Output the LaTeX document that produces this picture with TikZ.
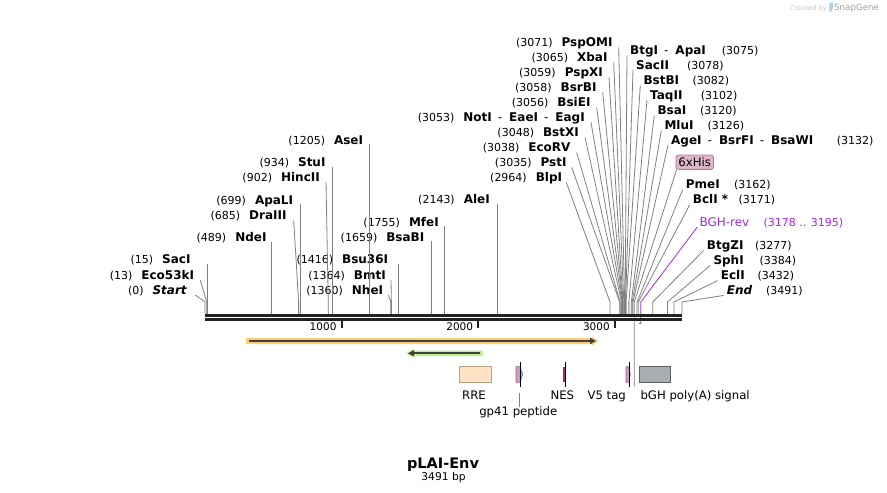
\documentclass[tikz,border=0pt]{standalone}
\usepackage{fontspec}
\setmainfont{DejaVu Sans}
\usetikzlibrary{arrows.meta,calc}

\definecolor{cutgray}{RGB}{128,128,128}
\definecolor{seqblack}{RGB}{34,34,34}
\definecolor{darkarrow}{RGB}{64,64,64}
\definecolor{primer}{RGB}{160,40,240}
\definecolor{hisfill}{RGB}{221,182,203}
\definecolor{hisedge}{RGB}{178,122,152}
\definecolor{envhalo}{RGB}{252,204,120}
\definecolor{revhalo}{RGB}{190,240,130}
\definecolor{rrefill}{RGB}{255,226,196}
\definecolor{rreedge}{RGB}{190,160,130}
\definecolor{tagpink}{RGB}{205,155,190}
\definecolor{tagedge}{RGB}{150,100,135}
\definecolor{nesred}{RGB}{165,40,100}
\definecolor{polyfill}{RGB}{168,173,180}
\definecolor{polyedge}{RGB}{90,95,100}
\definecolor{logoblue}{RGB}{170,210,235}

\newcommand{\numf}{\fontsize{11}{13}\selectfont}
\newcommand{\dsep}{\hspace{6pt}{\mdseries-}\hspace{7pt}}
\newcommand{\lcut}[2]{{\numf(#1)}\hspace{9pt}\textbf{#2}}
\newcommand{\rcut}[3]{\makebox[#3pt][l]{\textbf{#1}}{\numf(#2)}}

\begin{document}
\begin{tikzpicture}[x=1pt,y=-1pt,
  enz/.style={inner sep=0pt,font=\fontsize{12}{14}\selectfont},
  featlab/.style={inner sep=0pt,anchor=base,font=\fontsize{11.7}{14}\selectfont},
  cutline/.style={cutgray,line width=0.8pt},
  seqline/.style={seqblack,line width=2.7pt},
  hisbox/.style={draw=hisedge,fill=hisfill,rounded corners=2.5pt,inner xsep=2.5pt,inner ysep=0pt,
    minimum height=14.3pt,line width=0.8pt,font=\fontsize{11.7}{14}\selectfont},
  tipmark/.style={-{Triangle[length=6pt,width=6pt]},darkarrow,line width=2.2pt}]
\useasboundingbox (0,0) rectangle (887,493);

\node[enz,anchor=base east] (pspomi) at (612.7,46.4) {\lcut{3071}{PspOMI}};
\node[enz,anchor=base east] (xbai) at (607.7,61.4) {\lcut{3065}{XbaI}};
\node[enz,anchor=base east] (pspxi) at (603,76.4) {\lcut{3059}{PspXI}};
\node[enz,anchor=base east] (bsrbi) at (596.7,91.4) {\lcut{3058}{BsrBI}};
\node[enz,anchor=base east] (bsiei) at (590.7,106.4) {\lcut{3056}{BsiEI}};
\node[enz,anchor=base east] (noti) at (585,121.4) {\lcut{3053}{NotI\dsep EaeI\dsep EagI}};
\node[enz,anchor=base east] (bstxi) at (579,136.4) {\lcut{3048}{BstXI}};
\node[enz,anchor=base east] (ecorv) at (570.7,151.4) {\lcut{3038}{EcoRV}};
\node[enz,anchor=base east] (psti) at (566.7,166.4) {\lcut{3035}{PstI}};
\node[enz,anchor=base east] (blpi) at (562.3,181.4) {\lcut{2964}{BlpI}};
\node[enz,anchor=base east] (alei) at (490,203.9) {\lcut{2143}{AleI}};
\node[enz,anchor=base east] (mfei) at (439,226.4) {\lcut{1755}{MfeI}};
\node[enz,anchor=base east] (bsabi) at (424.5,241.4) {\lcut{1659}{BsaBI}};
\node[enz,anchor=base east] (asei) at (363.3,144.4) {\lcut{1205}{AseI}};
\node[enz,anchor=base east] (stui) at (325.7,166.6) {\lcut{934}{StuI}};
\node[enz,anchor=base east] (hincii) at (320,181.2) {\lcut{902}{HincII}};
\node[enz,anchor=base east] (apali) at (293.3,204.4) {\lcut{699}{ApaLI}};
\node[enz,anchor=base east] (draiii) at (286.7,219.4) {\lcut{685}{DraIII}};
\node[enz,anchor=base east] (ndei) at (266.7,241.6) {\lcut{489}{NdeI}};
\node[enz,anchor=base east] (saci) at (190.7,263.8) {\lcut{15}{SacI}};
\node[enz,anchor=base east] (eco) at (194.3,279.2) {\lcut{13}{Eco53kI}};
\node[enz,anchor=base east] (start) at (187.3,294) {\lcut{0}{\textit{Start}}};
\node[enz,anchor=base east] (bsu) at (388.3,263.8) {\lcut{1416}{Bsu36I}};
\node[enz,anchor=base east] (bmti) at (386,279.2) {\lcut{1364}{BmtI}};
\node[enz,anchor=base east] (nhei) at (383.3,294) {\lcut{1360}{NheI}};

\node[enz,anchor=base west] (btgi) at (630,54.4) {\rcut{BtgI\dsep ApaI}{3075}{91.7}};
\node[enz,anchor=base west] (sacii) at (636,69) {\rcut{SacII}{3078}{51}};
\node[enz,anchor=base west] (bstbi) at (643.3,84.4) {\rcut{BstBI}{3082}{49}};
\node[enz,anchor=base west] (taqii) at (650,99.4) {\rcut{TaqII}{3102}{50.7}};
\node[enz,anchor=base west] (bsai) at (657.3,114.4) {\rcut{BsaI}{3120}{42.7}};
\node[enz,anchor=base west] (mlui) at (664.3,129.4) {\rcut{MluI}{3126}{43}};
\node[enz,anchor=base west] (agei) at (671,144) {\rcut{AgeI\dsep BsrFI\dsep BsaWI}{3132}{165.7}};
\node[enz,anchor=base west] (pmei) at (685.7,188.6) {\rcut{PmeI}{3162}{48.3}};
\node[enz,anchor=base west] (bcli) at (692.7,203.8) {\rcut{BclI *}{3171}{45.6}};
\node[enz,anchor=base west] (btgzi) at (706.7,249.4) {\rcut{BtgZI}{3277}{48.3}};
\node[enz,anchor=base west] (sphi) at (713.3,264.4) {\rcut{SphI}{3384}{46}};
\node[enz,anchor=base west] (ecli) at (720.7,279.6) {\rcut{EclI}{3432}{36.6}};
\node[enz,anchor=base west] (endsite) at (726.7,294.4) {\rcut{\textit{End}}{3491}{39.3}};

\node[hisbox] (his) at (694.7,162.2) {6xHis};
\node[enz,anchor=base west,text=primer] (bghrev) at (699.3,226) {\makebox[64pt][l]{BGH-rev}{\numf(3178 .. 3195)}};

\foreach \n/\dx/\bp in {pspomi/6/3071,xbai/6/3065,pspxi/6/3059,bsrbi/6/3058,bsiei/6/3056,
  noti/6/3053,bstxi/6/3048,ecorv/6/3038,psti/5/3035,blpi/4/2964,hincii/6/902,draiii/7/685,
  eco/6/13,start/8/0,bmti/5/1364,nhei/5/1360}
  \draw[cutline] ($(\n.base east)+(\dx,1)$) -- ({205+\bp*0.13664},302) -- ++(0,12);
\foreach \n/\bp in {asei/1205,stui/934,apali/699,ndei/489,saci/15,bsu/1416,mfei/1755,
  bsabi/1659,alei/2143} {
  \pgfmathsetmacro\cx{205+\bp*0.13664}
  \draw[cutline] (\n.base east -| \cx,0) -- (\cx,314);
}
\foreach \n/\bp in {btgi/3075,sacii/3078,bstbi/3082,taqii/3102,bsai/3120,mlui/3126,
  agei/3132,pmei/3162,bcli/3171,btgzi/3277,sphi/3384,ecli/3432,endsite/3491}
  \draw[cutline] ($(\n.base west)+(-3,1)$) -- ({205+\bp*0.13664},302) -- ++(0,12);
\draw[cutline] ([xshift=1pt]his.south west) -- (634.3,302) -- (634.3,387);
\draw[primer,line width=0.8pt] ($(bghrev.base west)+(-2,1)$) -- (640.8,302) -- (640.8,323.5) -- (639,323.5);

\draw[seqline] (205,315.4) -- (682,315.4);
\draw[seqline] (205,319.4) -- (682,319.4);
\foreach \t in {1000,2000,3000} {
  \draw[seqblack,line width=2pt] ({205+\t*0.13664},320) -- ++(0,7.5);
  \node[inner sep=0pt,anchor=base east,font=\fontsize{10.5}{12}\selectfont] (t\t) at ({200+\t*0.13664},330.6) {\t};
}

\fill[envhalo] (246,338) -- (592,338) -- (592,336.6) -- (598.4,341) -- (592,345.4) -- (592,344) -- (246,344) -- cycle;
\draw[tipmark] (249,341) -- (596,341);
\fill[revhalo] (482.7,350.6) -- (413,350.6) -- (413,349.2) -- (406,353.3) -- (413,357.6) -- (413,356) -- (482.7,356) -- cycle;
\draw[tipmark] (480,353.3) -- (408,353.3);

\draw[rreedge,fill=rrefill,line width=0.8pt] (459,366.6) rectangle (491.7,382.3);
\draw[tagedge,fill=tagpink,line width=0.6pt] (516,366.6) -- (520,366.6) -- (522.7,374.4) -- (520,382.3) -- (516,382.3) -- cycle;
\fill[nesred] (563.3,366.6) rectangle (565.7,382.3);
\draw[tagedge,fill=tagpink,line width=0.6pt] (626,366.6) -- (628.6,366.6) -- (630.3,374.4) -- (628.6,382.3) -- (626,382.3) -- cycle;
\draw[polyedge,fill=polyfill,line width=0.8pt] (639.3,366.6) rectangle (670.7,382.3);
\foreach \fx in {520.7,565.4,629.6}
  \draw[black,line width=0.8pt] (\fx,362) -- (\fx,387);

\node[featlab] (rre) at (474,399.8) {RRE};
\node[featlab] (nes) at (562.3,399.8) {NES};
\node[featlab] (vfive) at (606.7,399.8) {V5 tag};
\node[featlab,anchor=base west] (bgh) at (640.3,399.8) {bGH poly(A) signal};
\node[featlab] (gp) at (518.3,415.6) {gp41 peptide};
\coordinate (gptop) at (519.3,393);
\draw[cutline] (gptop) -- (gptop |- gp.north);

\node[inner sep=0pt,anchor=base,font=\bfseries\fontsize{14.5}{17}\selectfont] (title) at (443,468.3) {pLAI-Env};
\node[inner sep=0pt,anchor=base,font=\fontsize{10.7}{13}\selectfont] (size) at (443.5,480.4) {3491 bp};

\node[inner sep=0pt,anchor=base west,font=\fontsize{6.8}{8}\selectfont,text=black!22] (made) at (789.3,10.5) {Created by};
\fill[logoblue,rounded corners=0.8pt] (829.3,2.7) -- (833,2.7) -- (833,8) -- (831,12) -- (829.3,12) -- cycle;
\node[inner sep=0pt,anchor=base west,font=\fontsize{8.7}{10}\selectfont,text=black!38] (snap) at (834,10.7) {SnapGene};
\end{tikzpicture}
\end{document}
